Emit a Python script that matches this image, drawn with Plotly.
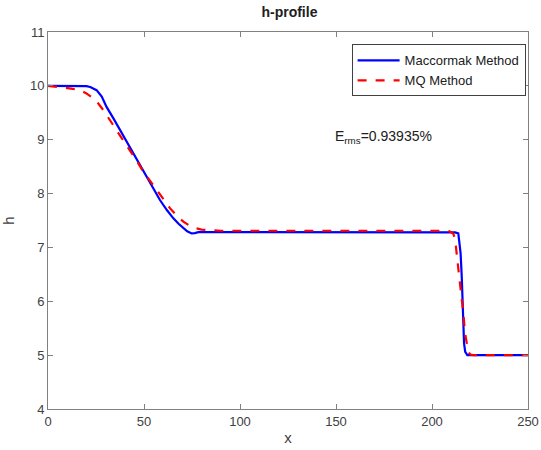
import plotly.graph_objects as go

# Maccormak Method (blue solid)
mac_x = [0, 18, 20, 22, 25.3, 28, 30.5, 34, 37.5, 41, 44.4, 48, 51.4, 55, 58.3, 62, 65.3, 68, 70.5, 72.5,
         74.8, 76.5, 78.3, 85, 120, 160, 200, 212, 213.7, 214.3, 214.9, 215.5, 216, 216.4, 216.7, 217.3,
         218.4, 220, 235, 250]
mac_y = [10, 10, 9.995, 9.98, 9.92, 9.80, 9.61, 9.40, 9.18, 8.97, 8.75, 8.52, 8.31, 8.09, 7.88, 7.69, 7.54,
         7.44, 7.36, 7.30, 7.26, 7.265, 7.285, 7.285, 7.285, 7.285, 7.285, 7.28, 7.26, 7.12, 6.89, 6.45,
         5.96, 5.55, 5.22, 5.06, 5.0, 5.0, 5.0, 5.0]

# MQ Method (red dashed)
mq_x = [0, 8, 12, 16.7, 20, 23.6, 26, 28.8, 32, 35.8, 39, 42.7, 46, 49.6, 53, 56.6, 60, 63.5, 67, 70.5,
        73.5, 76.6, 80, 83.5, 90, 120, 160, 200, 208.5, 211, 212, 213.2, 214.4, 215.5, 216.4, 217.2,
        218.1, 218.9, 220, 221.5, 235, 250]
mq_y = [10, 9.97, 9.95, 9.92, 9.86, 9.77, 9.68, 9.55, 9.38, 9.18, 9.00, 8.81, 8.62, 8.41, 8.24, 8.07, 7.90,
        7.73, 7.59, 7.48, 7.41, 7.36, 7.33, 7.32, 7.31, 7.31, 7.31, 7.31, 7.31, 7.26, 7.17, 6.77, 6.42,
        6.09, 5.75, 5.41, 5.20, 5.06, 5.01, 5.0, 5.0, 5.0]

x_ticks = [0, 50, 100, 150, 200, 250]
y_ticks = [4, 5, 6, 7, 8, 9, 10, 11]

FONT = "Liberation Sans, Arial, sans-serif"

fig = go.Figure()
fig.add_trace(go.Scatter(x=mac_x, y=mac_y, mode="lines", name="Maccormak Method",
                         line=dict(color="#0000ff", width=2.2)))
fig.add_trace(go.Scatter(x=mq_x, y=mq_y, mode="lines", name="MQ Method",
                         line=dict(color="#ff0000", width=2.2, dash="dash")))

axis_common = dict(showline=True, linecolor="#808080", linewidth=1, mirror="ticks",
                   ticks="inside", ticklen=5, tickcolor="#808080", showgrid=False, zeroline=False,
                   automargin=False,
                   tickfont=dict(family=FONT, size=13, color="#404040"))

fig.update_layout(
    width=541, height=450,
    margin=dict(l=48, r=13, t=32, b=41),
    paper_bgcolor="white", plot_bgcolor="white",
    title=dict(text="<b>h-profile</b>", x=0.535, xanchor="center", y=0.973, yanchor="middle",
               automargin=False,
               font=dict(family=FONT, size=14, color="#202020")),
    xaxis=dict(range=[0, 250], tickvals=x_ticks, title=dict(text="x", standoff=4,
               font=dict(family=FONT, size=15, color="#404040")),
               **axis_common),
    yaxis=dict(range=[4, 11], tickvals=y_ticks, title=dict(text="h", standoff=12,
               font=dict(family=FONT, size=15, color="#404040")),
               **axis_common),
    showlegend=True,
    legend=dict(x=0.995, y=0.967, xanchor="right", yanchor="top", bgcolor="white",
                bordercolor="#404040", borderwidth=1, tracegroupgap=0, itemwidth=42,
                font=dict(family=FONT, size=13, color="#202020")),
    annotations=[dict(x=148.5, y=9.05, xref="x", yref="y", xanchor="left", yanchor="middle",
                      text="E<sub>rms</sub>=0.93935%", showarrow=False,
                      font=dict(family=FONT, size=14, color="#202020"))],
)

fig.write_html("out.html")
